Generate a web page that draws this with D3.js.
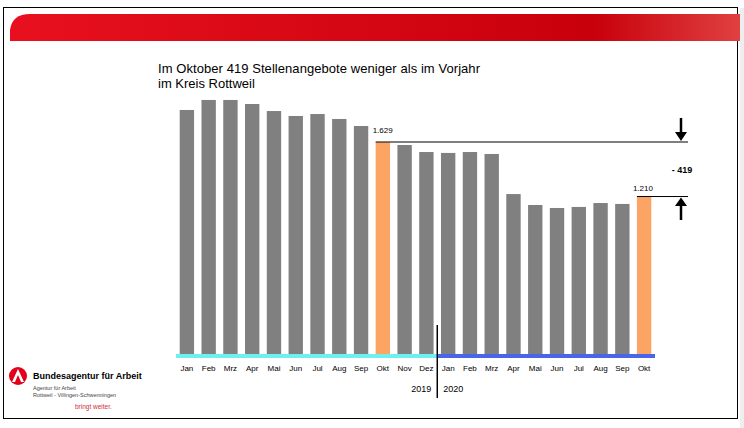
<!DOCTYPE html><html><head><meta charset="utf-8">
<script src="https://cdn.jsdelivr.net/npm/d3@7"></script>
<style>body{margin:0;background:#fff}svg{display:block;font-family:"Liberation Sans",Arial,sans-serif}</style></head><body>
<svg id="c" width="744" height="428"></svg>
<script>
const months=["Jan","Feb","Mrz","Apr","Mai","Jun","Jul","Aug","Sep","Okt","Nov","Dez","Jan","Feb","Mrz","Apr","Mai","Jun","Jul","Aug","Sep","Okt"];
const values=[1875,1952,1952,1921,1867,1829,1844,1806,1752,1629,1606,1552,1545,1552,1537,1229,1145,1122,1130,1160,1153,1210];
const years=["2019","2020"];
const highlight=[9,21];
const svg=d3.select("#c");
const defs=svg.append("defs");
const g=defs.append("linearGradient").attr("id","rg").attr("x1","0").attr("x2","1");
g.append("stop").attr("offset","0").attr("stop-color","#e8101e");
g.append("stop").attr("offset","0.8").attr("stop-color","#c8000c");
g.append("stop").attr("offset","1").attr("stop-color","#e04040");
svg.append("rect").attr("x",3.5).attr("y",7.5).attr("width",734).attr("height",411).attr("fill","none").attr("stroke","#000");
svg.append("path").attr("d","M10,41 L10,30 Q12,14 30,14 L740,14 L740,41 Z").attr("fill","url(#rg)");
svg.append("rect").attr("x",740).attr("y",8).attr("width",4).attr("height",420).attr("fill","#eee");
svg.append("text").attr("x",158).attr("y",73).attr("font-size",13).attr("textLength",322).text("Im Oktober 419 Stellenangebote weniger als im Vorjahr");
svg.append("text").attr("x",158).attr("y",88).attr("font-size",13).text("im Kreis Rottweil");
const x=d3.scaleBand().domain(d3.range(months.length)).range([176,655]).paddingInner(0.34).paddingOuter(0.17);
const y=d3.scaleLinear().domain([0,1629]).range([354,142]);
svg.selectAll("rect.bar").data(values).join("rect").attr("class","bar")
 .attr("x",(d,i)=>x(i)).attr("width",x.bandwidth()).attr("y",d=>y(d)).attr("height",d=>y(0)-y(d))
 .attr("fill",(d,i)=>highlight.includes(i)?"#fca464":"#808080");
const split=(x(11)+x.bandwidth()+x(12))/2;
svg.append("rect").attr("x",176).attr("y",354).attr("width",split-176).attr("height",4).attr("fill","#6ff0f0");
svg.append("rect").attr("x",split).attr("y",354).attr("width",655-split).attr("height",4).attr("fill","#4a66e8");
svg.selectAll("text.m").data(months).join("text").attr("class","m").attr("x",(d,i)=>x(i)+x.bandwidth()/2).attr("y",371)
 .attr("text-anchor","middle").attr("font-size",8).text(d=>d);
svg.append("line").attr("x1",split).attr("x2",split).attr("y1",325).attr("y2",398).attr("stroke","#000").attr("stroke-width",1.5);
svg.append("text").attr("x",split-6).attr("y",392).attr("text-anchor","end").attr("font-size",9).text(years[0]);
svg.append("text").attr("x",split+6).attr("y",392).attr("font-size",9).text(years[1]);
const a=values[9],b=values[21];
svg.append("line").attr("x1",x(9)).attr("x2",688).attr("y1",y(a)).attr("y2",y(a)).attr("stroke","#000");
svg.append("line").attr("x1",x(21)).attr("x2",688).attr("y1",y(b)).attr("y2",y(b)).attr("stroke","#000");
const fmt=v=>d3.format(",")(v).replace(",",".");
svg.append("text").attr("x",x(9)-3).attr("y",y(a)-9).attr("font-size",8).text(fmt(a));
svg.append("text").attr("x",x(21)-4).attr("y",y(b)-6).attr("font-size",8).text(fmt(b));
svg.append("text").attr("x",682).attr("y",173).attr("text-anchor","middle").attr("font-size",9).attr("font-weight","bold").text("- "+(a-b));
// arrows
svg.append("line").attr("x1",681).attr("x2",681).attr("y1",118).attr("y2",133).attr("stroke","#000").attr("stroke-width",2.5);
svg.append("path").attr("d",`M675,132 L687,132 L681,${y(a)-1} Z`).attr("fill","#000");
svg.append("line").attr("x1",681).attr("x2",681).attr("y1",205).attr("y2",220).attr("stroke","#000").attr("stroke-width",2.5);
svg.append("path").attr("d",`M675,206 L687,206 L681,${y(b)+1} Z`).attr("fill","#000");
// logo
svg.append("circle").attr("cx",18).attr("cy",376).attr("r",9).attr("fill","#e2001a");
svg.append("path").attr("d","M12,382 L18,369 L24,382 L21,382 L18,375 L15,382 Z").attr("fill","#fff");
svg.append("text").attr("x",33).attr("y",379).attr("font-size",9).attr("font-weight","bold").text("Bundesagentur für Arbeit");
svg.append("text").attr("x",33).attr("y",390).attr("font-size",5.5).attr("fill","#444").text("Agentur für Arbeit");
svg.append("text").attr("x",33).attr("y",397).attr("font-size",5.5).attr("fill","#444").text("Rottweil - Villingen-Schwenningen");
svg.append("text").attr("x",75).attr("y",409).attr("font-size",6.5).attr("fill","#d0303a").text("bringt weiter.");
</script></body></html>
